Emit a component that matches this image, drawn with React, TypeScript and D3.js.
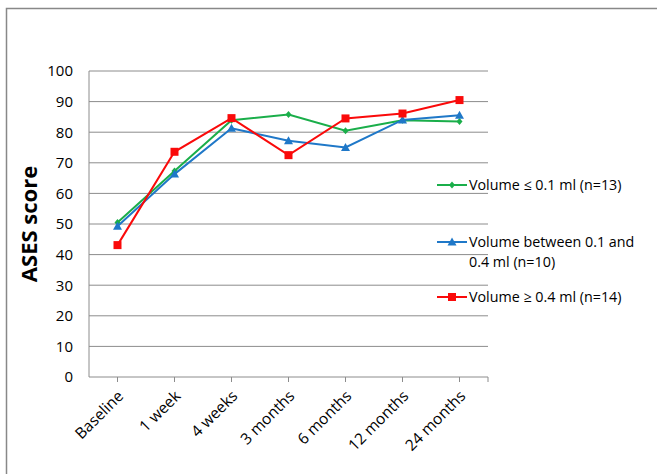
import React from "react";
import * as d3 from "d3";

const categories = ["Baseline", "1 week", "4 weeks", "3 months", "6 months", "12 months", "24 months"];
const lowVolume = [50.5, 67.3, 83.9, 85.8, 80.5, 83.9, 83.5];
const midVolume = [49.3, 66.3, 81.3, 77.2, 75.0, 84.0, 85.5];
const highVolume = [43.1, 73.6, 84.6, 72.5, 84.5, 86.1, 90.5];
const yTicks = [0, 10, 20, 30, 40, 50, 60, 70, 80, 90, 100];
const legendLines = [
  ["Volume \u2264 0.1 ml (n=13)"],
  ["Volume between 0.1 and", "0.4 ml (n=10)"],
  ["Volume \u2265 0.4 ml (n=14)"],
];

const W = 657;
const H = 474;
const plot = { left: 89, right: 488, top: 71, bottom: 377 };
const font = "'Open Sans', 'Liberation Sans', sans-serif";

type Series = { values: number[]; color: string; marker: "diamond" | "triangle" | "square" };
const series: Series[] = [
  { values: lowVolume, color: "#1aae4a", marker: "diamond" },
  { values: midVolume, color: "#1f78c8", marker: "triangle" },
  { values: highVolume, color: "#fa0a0a", marker: "square" },
];

function Marker({ kind, x, y, color }: { kind: Series["marker"]; x: number; y: number; color: string }) {
  if (kind === "square") return <rect x={x - 4} y={y - 4} width={8} height={8} fill={color} />;
  if (kind === "triangle")
    return <path d={`M${x},${y - 4.5}L${x + 4.5},${y + 3.5}L${x - 4.5},${y + 3.5}Z`} fill={color} />;
  return <path d={`M${x},${y - 3.5}L${x + 3},${y}L${x},${y + 3.5}L${x - 3},${y}Z`} fill={color} />;
}

export default function App() {
  const x = d3.scalePoint<string>().domain(categories).range([plot.left, plot.right]).padding(0.5);
  const band = (plot.right - plot.left) / categories.length;
  const y = d3.scaleLinear().domain([0, 100]).range([plot.bottom, plot.top]);
  const line = d3
    .line<number>()
    .x((_, i) => x(categories[i])!)
    .y((v) => y(v));

  const legendX = 437;
  const legendY = [185, 242, 297];

  return (
    <svg
      width={W}
      height={H}
      style={{ position: "absolute", left: 0, top: 0, background: "#fff" }}
      fontFamily={font}
    >
      <rect x={6.5} y={8.5} width={W + 10} height={H + 10} fill="none" stroke="#888" strokeWidth={1.5} />

      {yTicks.map((t) => (
        <g key={t}>
          {t > 0 && (
            <line x1={plot.left} x2={plot.right} y1={y(t)} y2={y(t)} stroke="#8c8c8c" strokeWidth={1} />
          )}
          <text x={73} y={y(t)} dy="0.36em" textAnchor="end" fontSize={15} fill="#000">
            {t}
          </text>
        </g>
      ))}

      <line x1={plot.left} x2={plot.left} y1={plot.top} y2={plot.bottom} stroke="#8c8c8c" />
      <line x1={plot.left} x2={plot.right} y1={plot.bottom} y2={plot.bottom} stroke="#8c8c8c" />
      {categories.map((c) => (
        <line key={c} x1={x(c)!} x2={x(c)!} y1={plot.bottom} y2={plot.bottom + 5} stroke="#8c8c8c" />
      ))}
      <line x1={plot.left + band * categories.length} x2={plot.left + band * categories.length} y1={plot.bottom} y2={plot.bottom + 5} stroke="#8c8c8c" />

      {categories.map((c) => (
        <text
          key={c}
          transform={`translate(${x(c)! + 7},${plot.bottom + 20}) rotate(-45)`}
          textAnchor="end"
          fontSize={15.5}
          fill="#000"
        >
          {c}
        </text>
      ))}

      <text
        transform={`translate(37,${(plot.top + plot.bottom) / 2}) rotate(-90)`}
        textAnchor="middle"
        fontSize={22}
        fontWeight="bold"
        fill="#000"
      >
        ASES score
      </text>

      {series.map((s, k) => (
        <g key={k}>
          <path d={line(s.values)!} fill="none" stroke={s.color} strokeWidth={2} />
          {s.values.map((v, i) => (
            <Marker key={i} kind={s.marker} x={x(categories[i])!} y={y(v)} color={s.color} />
          ))}
        </g>
      ))}

      {series.map((s, k) => (
        <g key={k}>
          <line x1={legendX} x2={legendX + 30} y1={legendY[k]} y2={legendY[k]} stroke={s.color} strokeWidth={2} />
          <Marker kind={s.marker} x={legendX + 15} y={legendY[k]} color={s.color} />
          {legendLines[k].map((l, j) => (
            <text key={j} x={legendX + 32} y={legendY[k] + j * 19.6} dy="0.36em" fontSize={14.3} fill="#000">
              {l}
            </text>
          ))}
        </g>
      ))}
    </svg>
  );
}
